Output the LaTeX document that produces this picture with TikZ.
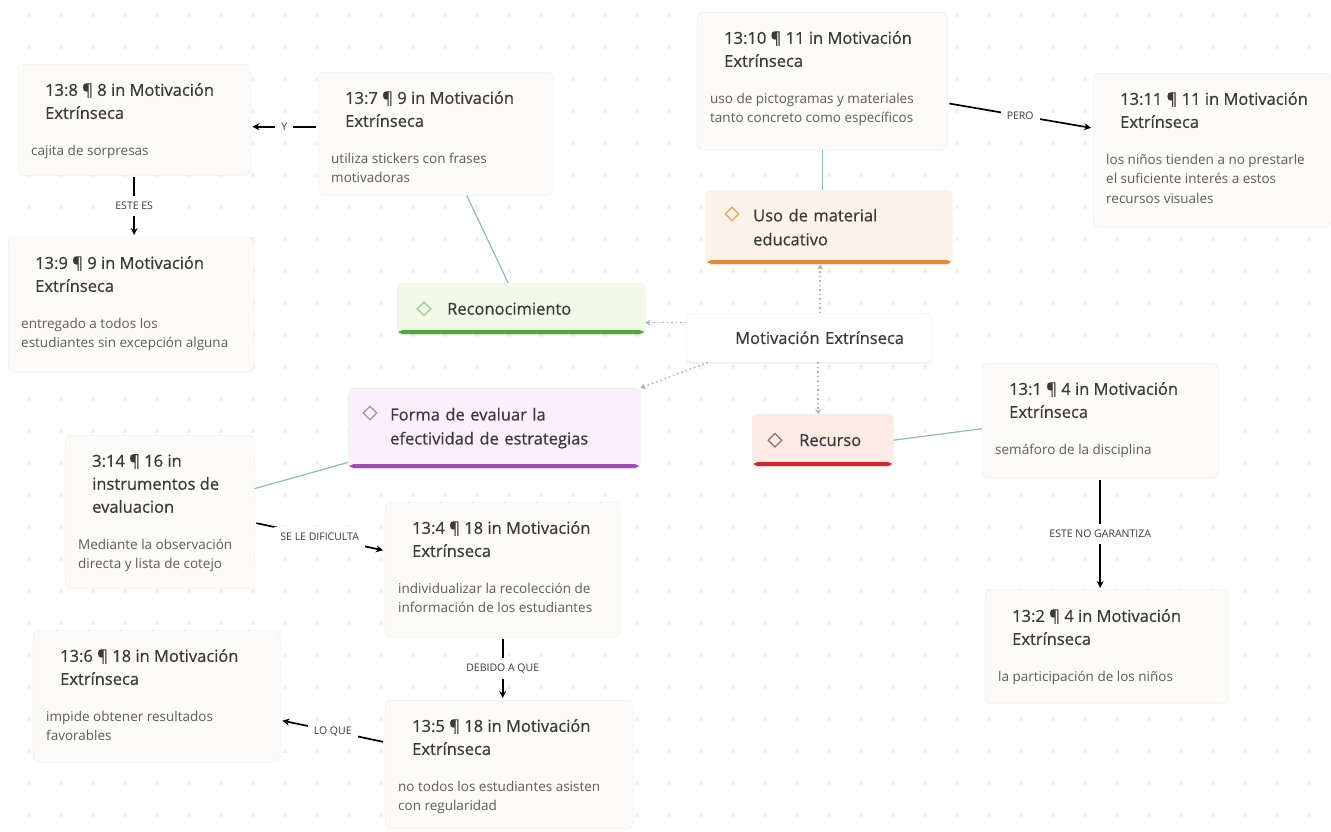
\documentclass[tikz,border=0pt]{standalone}
\usepackage{fontspec}
\setmainfont{Open Sans}
\newfontfamily\headfamily{Open Sans}[FakeBold=0.6]
\usepackage{xcolor}
\usepackage{tikz}
\usetikzlibrary{arrows.meta,shapes.geometric,shadows}

\definecolor{paper}{HTML}{FDFBF9}
\definecolor{paperline}{HTML}{EEE9E4}
\definecolor{dotgrey}{HTML}{F1F1F1}
\definecolor{titlegrey}{HTML}{3A3A3A}
\definecolor{bodygrey}{HTML}{5C5C5C}
\definecolor{linkteal}{HTML}{8DBDBA}
\definecolor{recofill}{HTML}{F1FAE9}
\definecolor{recobar}{HTML}{4DA83A}
\definecolor{recoicon}{HTML}{9CC992}
\definecolor{usofill}{HTML}{FDF3EA}
\definecolor{usobar}{HTML}{E5892F}
\definecolor{usoicon}{HTML}{E9A44F}
\definecolor{formafill}{HTML}{FAEFFB}
\definecolor{formabar}{HTML}{A04CB3}
\definecolor{formaicon}{HTML}{A592AA}
\definecolor{recfill}{HTML}{FBEAE6}
\definecolor{recbar}{HTML}{D8232B}
\definecolor{recicon}{HTML}{9A6B62}

\newcommand{\titlefont}{\headfamily\fontsize{16.5}{23}\selectfont\color{titlegrey}}
\newcommand{\bodyfont}{\fontsize{13.5}{19.5}\selectfont\color{bodygrey}}
\newcommand{\catfont}{\headfamily\fontsize{16.5}{24}\selectfont\color{titlegrey}}
\newcommand{\labelfont}{\fontsize{10.5}{12}\selectfont\color{titlegrey}}
% width, height, title, body
\newcommand{\qnote}[4]{\parbox[c][#2pt][t]{#1pt}{\raggedright\vspace*{19pt}%
    {\titlefont\leftskip=14pt #3\par}\vspace{17pt}{\bodyfont #4\par}}}

\tikzset{
    quote/.style={draw=paperline, fill=paper, rounded corners=6pt, anchor=north west,
        inner xsep=13pt, inner ysep=0pt},
    cat/.style={rounded corners=5pt, anchor=north west, draw=black!7, inner xsep=10pt,
        inner ysep=4pt, align=left, font=\catfont,
        drop shadow={shadow xshift=0pt, shadow yshift=-1.5pt, opacity=0.12}},
    bar/.style={path picture={\fill[#1] ([yshift=-1pt]path picture bounding box.south west)
        rectangle ([yshift=4pt]path picture bounding box.south east);}},
    icon/.style={diamond, draw=#1, line width=1.2pt, minimum size=14pt, inner sep=0pt},
    link/.style={line width=1.7pt, -{Stealth[length=7pt,width=7pt]}, shorten <=2pt, shorten >=2pt},
    linklabel/.style={fill=white, font=\labelfont, inner sep=6pt},
    tie/.style={linkteal, line width=1.2pt},
    dotlink/.style={gray!60, line width=1.5pt, dash pattern=on 1.5pt off 3pt,
        -{Stealth[length=5pt,width=6pt]}},
}

\begin{document}
\begin{tikzpicture}[x=1pt, y=-1pt]
    \useasboundingbox (0,0) rectangle (1331,831);
    \fill[white] (0,0) rectangle (1331,831);
    \foreach \gx in {29,61,...,1331}{
        \foreach \gy in {15,47,...,831}{
            \fill[dotgrey] (\gx-2,\gy-2) rectangle ++(4,4);
        }
    }

    % quotations
    \node[quote] (q8) at (18,64)
        {\qnote{206}{111}{13:8 ¶ 8 in Motivación\\Extrínseca}{cajita de sorpresas}};
    \node[quote] (q7) at (318,72)
        {\qnote{209}{123}{13:7 ¶ 9 in Motivación\\Extrínseca}{utiliza stickers con frases\\motivadoras}};
    \node[quote] (q9) at (8,237)
        {\qnote{219}{135}{13:9 ¶ 9 in Motivación\\Extrínseca}{entregado a todos los\\estudiantes sin excepción alguna}};
    \node[quote] (q10) at (697,12)
        {\qnote{224}{138}{13:10 ¶ 11 in Motivación\\Extrínseca}{uso de pictogramas y materiales\\tanto concreto como específicos}};
    \node[quote] (q11) at (1093,73)
        {\qnote{212}{154}{13:11 ¶ 11 in Motivación\\Extrínseca}{los niños tienden a no prestarle\\el suficiente interés a estos\\recursos visuales}};
    \node[quote] (q1) at (982,363)
        {\qnote{210}{115}{13:1 ¶ 4 in Motivación\\Extrínseca}{semáforo de la disciplina}};
    \node[quote] (q2) at (985,590)
        {\qnote{217}{113}{13:2 ¶ 4 in Motivación\\Extrínseca}{la participación de los niños}};
    \node[quote] (q314) at (65,435)
        {\qnote{163}{153}{3:14 ¶ 16 in\\instrumentos de\\evaluacion}{Mediante la observación\\directa y lista de cotejo}};
    \node[quote] (q4) at (385,502)
        {\qnote{209}{135}{13:4 ¶ 18 in Motivación\\Extrínseca}{individualizar la recolección de\\información de los estudiantes}};
    \node[quote] (q6) at (33,630)
        {\qnote{221}{132}{13:6 ¶ 18 in Motivación\\Extrínseca}{impide obtener resultados\\favorables}};
    \node[quote] (q5) at (385,700)
        {\qnote{222}{128}{13:5 ¶ 18 in Motivación\\Extrínseca}{no todos los estudiantes asisten\\con regularidad}};

    % codes
    \node[cat, fill=white, text width=226pt, minimum height=49pt] (mot) at (686,313)
        {{\leftskip=39pt Motivación Extrínseca\par}};
    \node[cat, fill=recofill, bar=recobar, text width=228pt, minimum height=51pt] (reco) at (397,283)
        {{\leftskip=40pt Reconocimiento\par}};
    \node[cat, fill=usofill, bar=usobar, text width=226pt, minimum height=74pt] (uso) at (706,190)
        {{\leftskip=37pt Uso de material\\educativo\par}};
    \node[cat, fill=formafill, bar=formabar, text width=272pt, minimum height=80pt] (forma) at (348,388)
        {{\leftskip=32pt Forma de evaluar la\\efectividad de estrategias\par}};
    \node[cat, fill=recfill, bar=recbar, text width=121pt, minimum height=52pt] (rec) at (752,414)
        {{\leftskip=37pt Recurso\par}};

    \node[icon=recoicon] (reco-i) at ([xshift=27pt]reco.west) {};
    \node[icon=usoicon] (uso-i) at ([xshift=26pt,yshift=-24pt]uso.north west) {};
    \node[icon=formaicon] (forma-i) at ([xshift=22pt,yshift=-25pt]forma.north west) {};
    \node[icon=recicon] (rec-i) at ([xshift=23pt]rec.west) {};

    % code to quotation
    \path[draw, tie] ([xshift=31pt]q7.south) -- ([xshift=-13pt]reco.north);
    \path[draw, tie] (q10.south) -- (q10.south |- uso.north);
    \path[draw, tie] ([yshift=6pt]forma.south west) -- ([yshift=23pt]q314.east);
    \path[draw, tie] (rec.east) -- ([yshift=-8pt]q1.west);

    % central code to its groups
    \draw[dotlink] ([yshift=15pt]mot.west) -- ([yshift=15pt]mot.west -| reco.east);
    \draw[dotlink] ([xshift=22pt]mot.south west) -- (forma.north east);
    \draw[dotlink] ([xshift=11pt]mot.north) -- ([xshift=11pt]mot.north |- uso.south);
    \draw[dotlink] ([xshift=9pt]mot.south) -- ([xshift=9pt]mot.south |- rec.north);

    % named links
    \draw[link] ([yshift=7pt]q7.west) -- node[linklabel] {Y} ([yshift=7pt]q7.west -| q8.east);
    \draw[link] (q8.south) -- node[linklabel] {ESTE ES} (q8.south |- q9.north);
    \draw[link] ([yshift=-22pt]q10.east) -- node[linklabel] {PERO} ([yshift=22pt]q11.west);
    \draw[link] (q1.south) -- node[linklabel] {ESTE NO GARANTIZA} (q1.south |- q2.north);
    \draw[link] ([yshift=-11pt]q314.east) -- node[linklabel] {SE LE DIFICULTA} ([yshift=19pt]q4.west);
    \draw[link] (q4.south) -- node[linklabel] {DEBIDO A QUE} (q4.south |- q5.north);
    \draw[link] ([yshift=22pt]q5.west) -- node[linklabel] {LO QUE} ([yshift=-24pt]q6.east);
\end{tikzpicture}
\end{document}
